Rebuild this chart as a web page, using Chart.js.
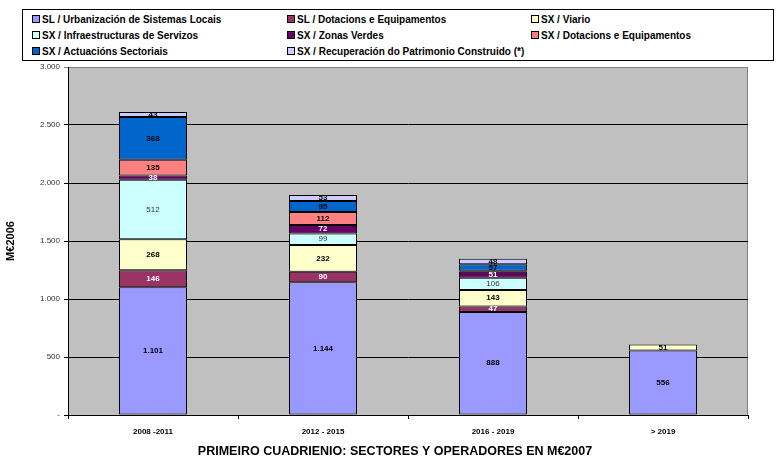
<!DOCTYPE html>
<html>
<head>
<meta charset="utf-8">
<script src="https://cdn.jsdelivr.net/npm/chart.js@4.4.1/dist/chart.umd.min.js"></script>
<style>
  html, body { margin: 0; padding: 0; background: #fff; }
  #wrap { position: relative; width: 780px; height: 462px; font-family: Arial, "Liberation Sans", sans-serif; }
  #chart { position: absolute; left: 0; top: 0; }
  #legend {
    position: absolute; left: 22px; top: 9px; width: 752px; height: 52px;
    border: 1px solid #000; background: #fff; box-sizing: border-box;
  }
  .item { position: absolute; font-size: 10px; font-weight: bold; color: #000; white-space: nowrap; line-height: 11px; }
  .item i { display: inline-block; width: 6px; height: 6px; border: 1px solid #000; margin-right: 2px; vertical-align: 0px; }
</style>
</head>
<body>
<div id="wrap">
  <canvas id="chart" width="780" height="462"></canvas>
  <div id="legend"></div>
</div>
<script>
const categories = ['2008 -2011', '2012 - 2015', '2016 - 2019', '> 2019'];

const seriesNames = [
    'SL / Urbanización de Sistemas Locais',
    'SL / Dotacions e Equipamentos',
    'SX / Viario',
    'SX / Infraestructuras de Servizos',
    'SX / Zonas Verdes',
    'SX / Dotacions e Equipamentos',
    'SX / Actuacións Sectoriais',
    'SX / Recuperación do Patrimonio Construido (*)'
];

const slUrbanizacion = [1101, 1144, 888, 556];
const slDotacions = [146, 90, 47, 0];
const sxViario = [268, 232, 143, 51];
const sxInfraestructuras = [512, 99, 106, 0];
const sxZonasVerdes = [38, 72, 51, 0];
const sxDotacions = [135, 112, 8, 0];
const sxActuacions = [368, 95, 57, 0];
const sxRecuperacion = [43, 53, 48, 0];

const yTicks = [0, 500, 1000, 1500, 2000, 2500, 3000];

const xTitle = 'PRIMEIRO CUADRIENIO: SECTORES Y OPERADORES EN M€2007';

const seriesValues = [slUrbanizacion, slDotacions, sxViario, sxInfraestructuras,
    sxZonasVerdes, sxDotacions, sxActuacions, sxRecuperacion];
const seriesColors = ['#9999FF', '#993366', '#FFFFCC', '#CCFFFF', '#660066', '#FF8080', '#0066CC', '#CCCCFF'];
const labelColors = ['#000', '#fff', '#000', '#333', '#fff', '#000', '#000', '#000'];

function fmt(v) {
    return String(v).replace(/\B(?=(\d{3})+(?!\d))/g, '.');
}

// legend, 3 columns
const legendEl = document.getElementById('legend');
const colX = [9, 264, 508];
seriesNames.forEach((name, i) => {
    const d = document.createElement('div');
    d.className = 'item';
    d.style.left = colX[i % 3] + 'px';
    d.style.top = (4 + Math.floor(i / 3) * 16) + 'px';
    d.innerHTML = '<i style="background:' + seriesColors[i] + '"></i>' + name;
    legendEl.appendChild(d);
});

const plotBg = {
    id: 'plotBg',
    beforeDraw(chart) {
        const a = chart.chartArea;
        const ctx = chart.ctx;
        ctx.save();
        ctx.fillStyle = '#C0C0C0';
        ctx.fillRect(a.left, a.top, a.right - a.left, a.bottom - a.top);
        ctx.strokeStyle = '#808080';
        ctx.lineWidth = 1;
        ctx.beginPath();
        ctx.moveTo(a.left, a.top + 0.5);
        ctx.lineTo(a.right - 0.5, a.top + 0.5);
        ctx.lineTo(a.right - 0.5, a.bottom);
        ctx.stroke();
        ctx.restore();
    },
    afterDraw(chart) {
        const ctx = chart.ctx;
        ctx.save();
        ctx.font = 'bold 12.5px Arial, "Liberation Sans", sans-serif';
        ctx.fillStyle = '#000';
        ctx.textAlign = 'center';
        ctx.textBaseline = 'middle';
        ctx.fillText(xTitle, 395, 452);
        ctx.restore();
    }
};

const barLabels = {
    id: 'barLabels',
    afterDatasetsDraw(chart) {
        const ctx = chart.ctx;
        ctx.save();
        ctx.textAlign = 'center';
        ctx.textBaseline = 'middle';
        chart.data.datasets.forEach((ds, i) => {
            const meta = chart.getDatasetMeta(i);
            meta.data.forEach((bar, j) => {
                const v = ds.data[j];
                if (v < 20) return;
                ctx.font = (i === 3 ? '' : 'bold ') + '8px Arial, "Liberation Sans", sans-serif';
                ctx.fillStyle = labelColors[i];
                ctx.fillText(fmt(v), bar.x, (bar.y + bar.base) / 2);
            });
        });
        ctx.restore();
    }
};

new Chart(document.getElementById('chart'), {
    type: 'bar',
    data: {
        labels: categories,
        datasets: seriesValues.map((vals, i) => ({
            label: seriesNames[i],
            data: vals,
            backgroundColor: seriesColors[i],
            borderColor: '#000',
            borderWidth: 1,
            borderSkipped: false,
            barPercentage: 0.4,
            categoryPercentage: 1
        }))
    },
    options: {
        responsive: false,
        animation: false,
        layout: { padding: { top: 67, right: 32, left: 0, bottom: 0 } },
        plugins: {
            legend: { display: false },
            tooltip: { enabled: false }
        },
        scales: {
            x: {
                stacked: true,
                afterFit: s => { s.height = 47; },
                grid: { drawOnChartArea: false, drawTicks: true, tickLength: 4, color: '#000', offset: true },
                border: { color: '#000' },
                ticks: {
                    color: '#000',
                    padding: 8,
                    font: { family: 'Arial, "Liberation Sans", sans-serif', size: 8, weight: 'bold' }
                }
            },
            y: {
                stacked: true,
                min: 0,
                max: 3000,
                afterFit: s => { s.width = 68; },
                afterBuildTicks: s => { s.ticks = yTicks.map(v => ({ value: v })); },
                grid: {
                    color: c => c.tick && c.tick.value === 3000 ? '#808080' : '#000',
                    lineWidth: 1,
                    tickLength: 4
                },
                border: { color: '#000' },
                ticks: {
                    color: '#333',
                    padding: 4,
                    font: { family: 'Arial, "Liberation Sans", sans-serif', size: 8 },
                    callback: v => v === 0 ? '-' : fmt(v)
                },
                title: {
                    display: true,
                    text: 'M€2006',
                    color: '#000',
                    padding: { top: 4, bottom: 0 },
                    font: { family: 'Arial, "Liberation Sans", sans-serif', size: 11, weight: 'bold' }
                }
            }
        }
    },
    plugins: [plotBg, barLabels]
});
</script>
</body>
</html>
